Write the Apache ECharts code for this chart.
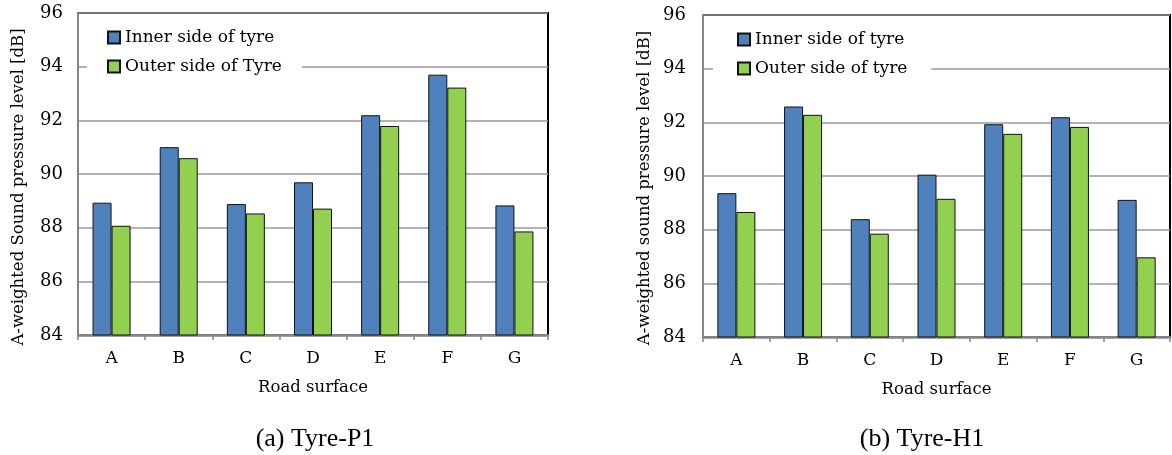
<!DOCTYPE html>
<html>
<head>
<meta charset="utf-8">
<script src="https://cdn.jsdelivr.net/npm/echarts@6/dist/echarts.min.js"></script>
<style>
  html, body { margin: 0; padding: 0; background: #fff; }
  #chart { width: 1172px; height: 455px; }
</style>
</head>
<body>
<div id="chart"></div>
<script>
// road surfaces and tick values
const roadSurfaces = ['A', 'B', 'C', 'D', 'E', 'F', 'G']
const yTicks = [84, 86, 88, 90, 92, 94, 96]

// (a) Tyre-P1
const p1Inner = [88.93, 91.0, 88.88, 89.69, 92.19, 93.7, 88.83]
const p1Outer = [88.07, 90.59, 88.53, 88.71, 91.79, 93.22, 87.86]

// (b) Tyre-H1
const h1Inner = [89.36, 92.59, 88.39, 90.05, 91.93, 92.19, 89.11]
const h1Outer = [88.66, 92.28, 87.85, 89.15, 91.57, 91.83, 86.97]

const serif = '"DejaVu Serif", serif'
const blue = '#4f81bd'
const green = '#92d050'
const axisGray = '#868686'

function xAxisFor(gridIndex) {
  return {
    type: 'category',
    gridIndex: gridIndex,
    data: roadSurfaces,
    name: 'Road surface',
    nameLocation: 'middle',
    nameGap: 44,
    nameTextStyle: { fontFamily: serif, fontSize: 16.5, color: '#000' },
    axisLine: { lineStyle: { color: axisGray, width: 2.5 } },
    axisTick: { show: true, length: 5, lineStyle: { color: axisGray, width: 1.5 } },
    axisLabel: { margin: 15, fontFamily: serif, fontSize: 17, color: '#000' }
  }
}

function yAxisFor(gridIndex, margin) {
  return {
    type: 'value',
    gridIndex: gridIndex,
    min: yTicks[0],
    max: yTicks[yTicks.length - 1],
    interval: 2,
    axisLine: { show: true, lineStyle: { color: axisGray, width: 2 } },
    axisTick: { show: false },
    axisLabel: { margin: margin, fontFamily: serif, fontSize: 18, color: '#000' },
    splitLine: { lineStyle: { color: '#9a9a9a', width: 1.5 } }
  }
}

function barSeries(name, data, color, idx) {
  return {
    name: name,
    type: 'bar',
    xAxisIndex: idx,
    yAxisIndex: idx,
    data: data,
    barWidth: 19,
    barGap: '0%',
    itemStyle: { color: color, borderColor: '#111', borderWidth: 1 }
  }
}

function legendFor(left, top, names, padLeft, padRight) {
  return {
    orient: 'vertical',
    left: left,
    top: top,
    padding: [6, padRight, 6, padLeft],
    backgroundColor: '#fff',
    icon: 'rect',
    itemWidth: 12,
    itemHeight: 12,
    itemGap: 12,
    data: names,
    textStyle: { fontFamily: serif, fontSize: 17, color: '#000', lineHeight: 17 }
  }
}

const option = {
  animation: false,
  grid: [
    { left: 78, top: 13, width: 470, height: 322, show: true, borderColor: '#000', borderWidth: 2 },
    { left: 703, top: 15, width: 467, height: 322, show: true, borderColor: '#000', borderWidth: 2 }
  ],
  legend: [
    legendFor(87, 23, ['Inner side of tyre', 'Outer side of Tyre'], 20, 20),
    legendFor(713, 25, ['Inner side of tyre', 'Outer side of tyre'], 24, 24)
  ],
  xAxis: [xAxisFor(0), xAxisFor(1)],
  yAxis: [yAxisFor(0, 15), yAxisFor(1, 17)],
  series: [
    barSeries('Inner side of tyre', p1Inner, blue, 0),
    barSeries('Outer side of Tyre', p1Outer, green, 0),
    barSeries('Inner side of tyre', h1Inner, blue, 1),
    barSeries('Outer side of tyre', h1Outer, green, 1)
  ],
  graphic: [
    {
      type: 'text', x: 19, y: 187, rotation: Math.PI / 2,
      style: {
        text: 'A-weighted Sound pressure level [dB]', font: '16.5px ' + serif, fill: '#000',
        align: 'center', verticalAlign: 'middle', textAlign: 'center', textVerticalAlign: 'middle'
      }
    },
    {
      type: 'text', x: 645, y: 188, rotation: Math.PI / 2,
      style: {
        text: 'A-weighted sound pressure level [dB]', font: '16.5px ' + serif, fill: '#000',
        align: 'center', verticalAlign: 'middle', textAlign: 'center', textVerticalAlign: 'middle'
      }
    },
    {
      type: 'text', x: 315, y: 439,
      style: {
        text: '(a) Tyre-P1', font: '26px "Liberation Serif", serif', fill: '#000',
        align: 'center', verticalAlign: 'middle', textAlign: 'center', textVerticalAlign: 'middle'
      }
    },
    {
      type: 'text', x: 922, y: 439,
      style: {
        text: '(b) Tyre-H1', font: '26px "Liberation Serif", serif', fill: '#000',
        align: 'center', verticalAlign: 'middle', textAlign: 'center', textVerticalAlign: 'middle'
      }
    }
  ]
}

const chart = echarts.init(document.getElementById('chart'))
chart.setOption(option)
</script>
</body>
</html>
